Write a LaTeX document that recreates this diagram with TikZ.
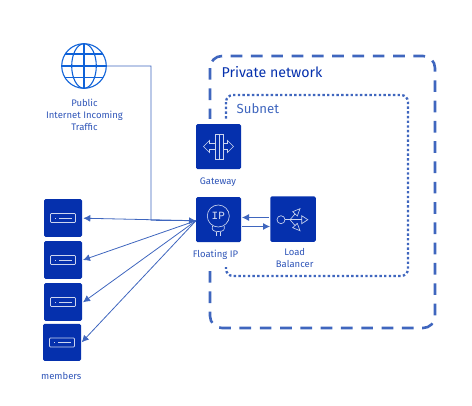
\documentclass[tikz,border=0pt]{standalone}
\usepackage{fontspec}
\setmainfont{Fira Sans}
\newfontfamily\ipfont{Liberation Mono}
\usetikzlibrary{arrows.meta}
\definecolor{boxblue}{HTML}{0530AD}
\definecolor{linkblue}{HTML}{3F66BE}
\definecolor{globeblue}{HTML}{0F62D8}
\definecolor{labelblue}{HTML}{2F55B8}
\tikzset{
  x=1pt,y=-1pt,
  icon/.style={draw=none,fill=boxblue,rounded corners=1.5pt,minimum width=#1,minimum height=#1,inner sep=0pt,outer sep=0pt},
  glyph/.style={draw=white!80!boxblue,line width=0.65pt,fill=none},
  lab/.style={text=labelblue,font=\fontsize{9.5}{12}\selectfont,align=center,inner sep=0pt},
  link/.style={draw=linkblue,line width=0.8pt,-{Latex[length=7pt,width=7pt]}},
  frame/.style={draw=linkblue,line width=2.6pt,rounded corners=12pt,dash pattern=on 11.7pt off 8.6pt},
  dotframe/.style={draw=linkblue,line width=2.3pt,rounded corners=7pt,dash pattern=on 2.4pt off 2.3pt},
}
\begin{document}
\begin{tikzpicture}
\useasboundingbox (0,0) rectangle (472,405);
% frames
\coordinate (pa) at (210,56); \coordinate (pb) at (435,328);
\coordinate (sa) at (226,95); \coordinate (sb) at (408,276);
\draw[frame] (pa) rectangle (pb);
\draw[dotframe] (sa) rectangle (sb);
% the frames' left edges stop behind the gateway and floating IP column
\fill[white] (190,119) rectangle (243,267);
\node[anchor=west,inner sep=0pt,text=boxblue,font=\fontsize{14.2}{16}\selectfont] (privlab) at (221.5,72) {Private network};
\node[anchor=west,inner sep=0pt,text=linkblue,font=\fontsize{13.2}{15}\selectfont] (sublab) at (236.5,109) {Subnet};
% nodes
\node[icon=45pt] (gw) at (218.5,146.5) {};
\node[icon=45pt] (fip) at (218.5,219.5) {};
\node[icon=45.5pt] (lb) at (293,219) {};
\node[icon=38pt,minimum height=37.7pt] (m1) at (63,217.9) {};
\node[icon=38pt,minimum height=37.7pt] (m2) at (63,259.9) {};
\node[icon=38pt,minimum height=37.7pt] (m3) at (63,301.9) {};
\node[icon=38pt,minimum height=37pt] (m4) at (62,342.4) {};
\node[circle,minimum size=45pt,inner sep=0pt,outer sep=0pt] (globe) at (84,66) {};
% globe
\begin{scope}[draw=globeblue,line width=1.1pt]
\draw (84,66) circle[radius=22.3];
\draw (84,66) ellipse[x radius=12.3,y radius=22.3];
\draw (84,43.7) -- (84,88.3);
\draw (61.7,66) -- (106.3,66);
\draw (65.4,54) -- (102.6,54);
\draw (65.4,77.5) -- (102.6,77.5);
\end{scope}
% gateway glyph
\draw[glyph] (215,134) rectangle (219,159);
\draw[glyph] (219,134) rectangle (223,159);
\draw[glyph] (215,143.5) -- (209.5,143.5) -- (209.5,140.5) -- (203.5,146.5) -- (209.5,152.5) -- (209.5,149.5) -- (215,149.5);
\draw[glyph] (223,143.5) -- (227.5,143.5) -- (227.5,140.5) -- (233.5,146.5) -- (227.5,152.5) -- (227.5,149.5) -- (223,149.5);
% floating IP glyph
\draw[glyph] (218.3,216) circle[radius=11];
\node[inner sep=0pt,text=white!85!boxblue,font=\ipfont\fontsize{11}{11}\selectfont] (iptxt) at (218.3,216) {IP};
\draw[glyph] (212.5,226) .. controls (211.5,230) and (213,231.5) .. (218.3,231.5) .. controls (223.5,231.5) and (225,230) .. (224.2,226);
\draw[glyph] (216,231.5) -- (216,235.5) (220.8,231.5) -- (220.8,235.5);
% load balancer glyph
\draw[glyph] (281,219.7) circle[radius=4];
\draw[glyph] (285,219.7) -- (301.7,219.7);
\draw[glyph] (290,219.7) -- (295,214);
\draw[glyph] (290,219.7) -- (295,225.5);
\draw[glyph] (301.7,215.7) -- (307.8,219.7) -- (301.7,223.7) -- cycle;
\draw[glyph] (292.7,211.7) -- (300,208.7) -- (297.3,216) -- cycle;
\draw[glyph] (292.7,227.7) -- (300,230.7) -- (297.3,223.4) -- cycle;
% member glyphs
\foreach \n/\x/\y in {a/63/218,b/63/260,c/63/302,d/62/342.5}{
  \draw[glyph,rounded corners=0.8pt] (\x-12.5,\y-4.5) rectangle (\x+12.5,\y+4.5);
  \draw[glyph] (\x-4,\y) -- (\x+9,\y);
  \fill[white!80!boxblue] (\x-8.3,\y-0.4) rectangle (\x-7.4,\y+0.4);
}
% labels
\node[lab] (publab) at (84.5,114.5) {Public\\Internet Incoming\\Traffic};
\node[lab,anchor=base] (gwlab) at (218,184) {Gateway};
\node[lab,anchor=base] (fiplab) at (215.5,257) {Floating IP};
\node[lab] (lblab) at (294.7,258) {Load\\Balancer};
\node[lab,anchor=base] (memlab) at (61.3,379) {members};
% connectors
\coordinate (turn) at (151,66);
\coordinate (join) at (151,220.3);
\coordinate (hub) at (196,220.7);
\coordinate (t1) at (83.3,218.2);
\coordinate (t2) at (83,260);
\coordinate (t3) at (83,302.3);
\coordinate (t4) at (81.7,342.3);
\draw[link] (globe.east) -- (turn) -- (join) -- (hub);
\draw[link] (hub) -- (t1);
\draw[link] (hub) -- (t2);
\draw[link] (hub) -- (t3);
\draw[link] (hub) -- (t4);
\coordinate (lbin) at (269,217.5);
\coordinate (fout) at (242,217.5);
\coordinate (fin) at (242,226.5);
\coordinate (lbout) at (270,226.5);
\draw[link] (lbin) -- (fout);
\draw[link] (fin) -- (lbout);
\end{tikzpicture}
\end{document}
